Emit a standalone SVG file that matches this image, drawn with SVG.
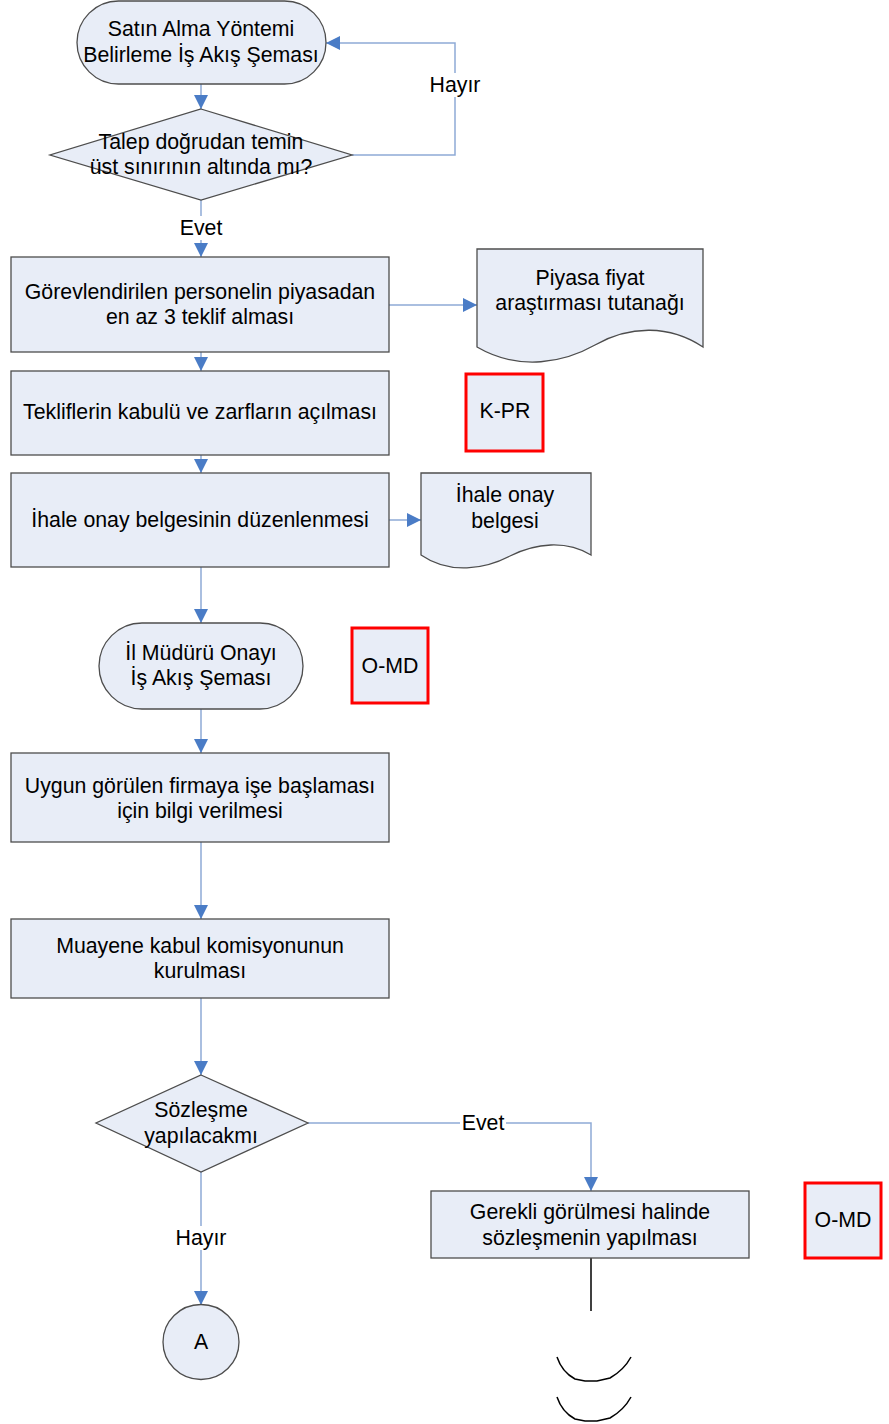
<svg xmlns="http://www.w3.org/2000/svg" width="889" height="1424" viewBox="0 0 889 1424">
<defs>
<marker id="arr" viewBox="0 0 14 14" refX="14" refY="7" markerWidth="14" markerHeight="14" markerUnits="userSpaceOnUse" orient="auto">
<path d="M0,0 L14,7 L0,14 Z" fill="#4a7cc6"/>
</marker>
<style>
.shape{fill:#e8edf7;stroke:#4d4d4d;stroke-width:1.3}
.red{fill:#e8edf7;stroke:#ff0000;stroke-width:3}
.con{fill:none;stroke:#8eaad6;stroke-width:1.5}
text{font-family:"Liberation Sans",Arial,sans-serif;font-size:21.3px;fill:#000;text-anchor:middle;dominant-baseline:central}
.lbl{fill:#ffffff;stroke:none}
</style>
</defs>
<rect width="889" height="1424" fill="#ffffff"/>

<g id="connectors">
<line class="con" x1="201" y1="84" x2="201" y2="109" marker-end="url(#arr)"/>
<polyline class="con" points="352,155 455,155 455,43 326,43" marker-end="url(#arr)"/>
<line class="con" x1="201" y1="200" x2="201" y2="257" marker-end="url(#arr)"/>
<line class="con" x1="389" y1="305" x2="477" y2="305" marker-end="url(#arr)"/>
<line class="con" x1="201" y1="352" x2="201" y2="371" marker-end="url(#arr)"/>
<line class="con" x1="201" y1="455" x2="201" y2="473" marker-end="url(#arr)"/>
<line class="con" x1="389" y1="520" x2="421" y2="520" marker-end="url(#arr)"/>
<line class="con" x1="201" y1="567" x2="201" y2="623" marker-end="url(#arr)"/>
<line class="con" x1="201" y1="709" x2="201" y2="753" marker-end="url(#arr)"/>
<line class="con" x1="201" y1="842" x2="201" y2="919" marker-end="url(#arr)"/>
<line class="con" x1="201" y1="998" x2="201" y2="1075" marker-end="url(#arr)"/>
<polyline class="con" points="308,1123 591,1123 591,1191" marker-end="url(#arr)"/>
<line class="con" x1="201" y1="1172" x2="201" y2="1305" marker-end="url(#arr)"/>
<line x1="591" y1="1258" x2="591" y2="1311" stroke="#000" stroke-width="1.5"/>
<path d="M557,1357 Q562,1372 575,1379 L585,1381 L597,1381 L610,1378 Q624,1370 631,1357" fill="none" stroke="#000" stroke-width="1.5"/>
<path d="M557,1397 Q562,1412 575,1419 L585,1421 L597,1421 L610,1418 Q624,1410 631,1397" fill="none" stroke="#000" stroke-width="1.5"/>
<rect class="lbl" x="426" y="73" width="58" height="24"/>
<text x="455" y="85">Hayır</text>
<rect class="lbl" x="176" y="216" width="50" height="24"/>
<text x="201" y="228">Evet</text>
<rect class="lbl" x="460" y="1111" width="46" height="24"/>
<text x="483" y="1123">Evet</text>
<rect class="lbl" x="172" y="1226" width="58" height="24"/>
<text x="201" y="1238">Hayır</text>
</g>

<g id="start">
<rect class="shape" x="77" y="1" width="249" height="83" rx="41.5" ry="41.5"/>
<text x="201" y="29">Satın Alma Yöntemi</text>
<text x="201" y="55">Belirleme İş Akış Şeması</text>
</g>

<g id="decision1">
<polygon class="shape" points="201,109 352,155 201,200 50,155"/>
<text x="201" y="142">Talep doğrudan temin</text>
<text x="201" y="167">üst sınırının altında mı?</text>
</g>

<g id="box1">
<rect class="shape" x="11" y="257" width="378" height="95"/>
<text x="200" y="292">Görevlendirilen personelin piyasadan</text>
<text x="200" y="317">en az 3 teklif alması</text>
</g>

<g id="doc1">
<path class="shape" d="M477,249 H703 V347 C670,325 630,325 595,345 C565,362 520,372 477,347 Z"/>
<text x="590" y="278">Piyasa fiyat</text>
<text x="590" y="303">araştırması tutanağı</text>
</g>

<g id="box2">
<rect class="shape" x="11" y="371" width="378" height="84"/>
<text x="200" y="412">Tekliflerin kabulü ve zarfların açılması</text>
</g>

<g id="kpr">
<rect class="red" x="466" y="374" width="77" height="77"/>
<text x="505" y="411">K-PR</text>
</g>

<g id="box3">
<rect class="shape" x="11" y="473" width="378" height="94"/>
<text x="200" y="520">İhale onay belgesinin düzenlenmesi</text>
</g>

<g id="doc2">
<path class="shape" d="M421,473 H591 V555 C566,540 536,543 510,556 C485,569 450,575 421,555 Z"/>
<text x="505" y="495">İhale onay</text>
<text x="505" y="521">belgesi</text>
</g>

<g id="terminator2">
<rect class="shape" x="99" y="623" width="204" height="86" rx="43" ry="43"/>
<text x="201" y="653">İl Müdürü Onayı</text>
<text x="201" y="678">İş Akış Şeması</text>
</g>

<g id="omd1">
<rect class="red" x="352" y="628" width="76" height="75"/>
<text x="390" y="666">O-MD</text>
</g>

<g id="box4">
<rect class="shape" x="11" y="753" width="378" height="89"/>
<text x="200" y="786">Uygun görülen firmaya işe başlaması</text>
<text x="200" y="811">için bilgi verilmesi</text>
</g>

<g id="box5">
<rect class="shape" x="11" y="919" width="378" height="79"/>
<text x="200" y="946">Muayene kabul komisyonunun</text>
<text x="200" y="971">kurulması</text>
</g>

<g id="decision2">
<polygon class="shape" points="201,1075 308,1123 201,1172 96,1123"/>
<text x="201" y="1110">Sözleşme</text>
<text x="201" y="1136">yapılacakmı</text>
</g>

<g id="box6">
<rect class="shape" x="431" y="1191" width="318" height="67"/>
<text x="590" y="1212">Gerekli görülmesi halinde</text>
<text x="590" y="1238">sözleşmenin yapılması</text>
</g>

<g id="omd2">
<rect class="red" x="805" y="1183" width="76" height="75"/>
<text x="843" y="1220">O-MD</text>
</g>

<g id="connectorA">
<ellipse class="shape" cx="201" cy="1342" rx="38" ry="37.5"/>
<text x="201" y="1342">A</text>
</g>
</svg>
